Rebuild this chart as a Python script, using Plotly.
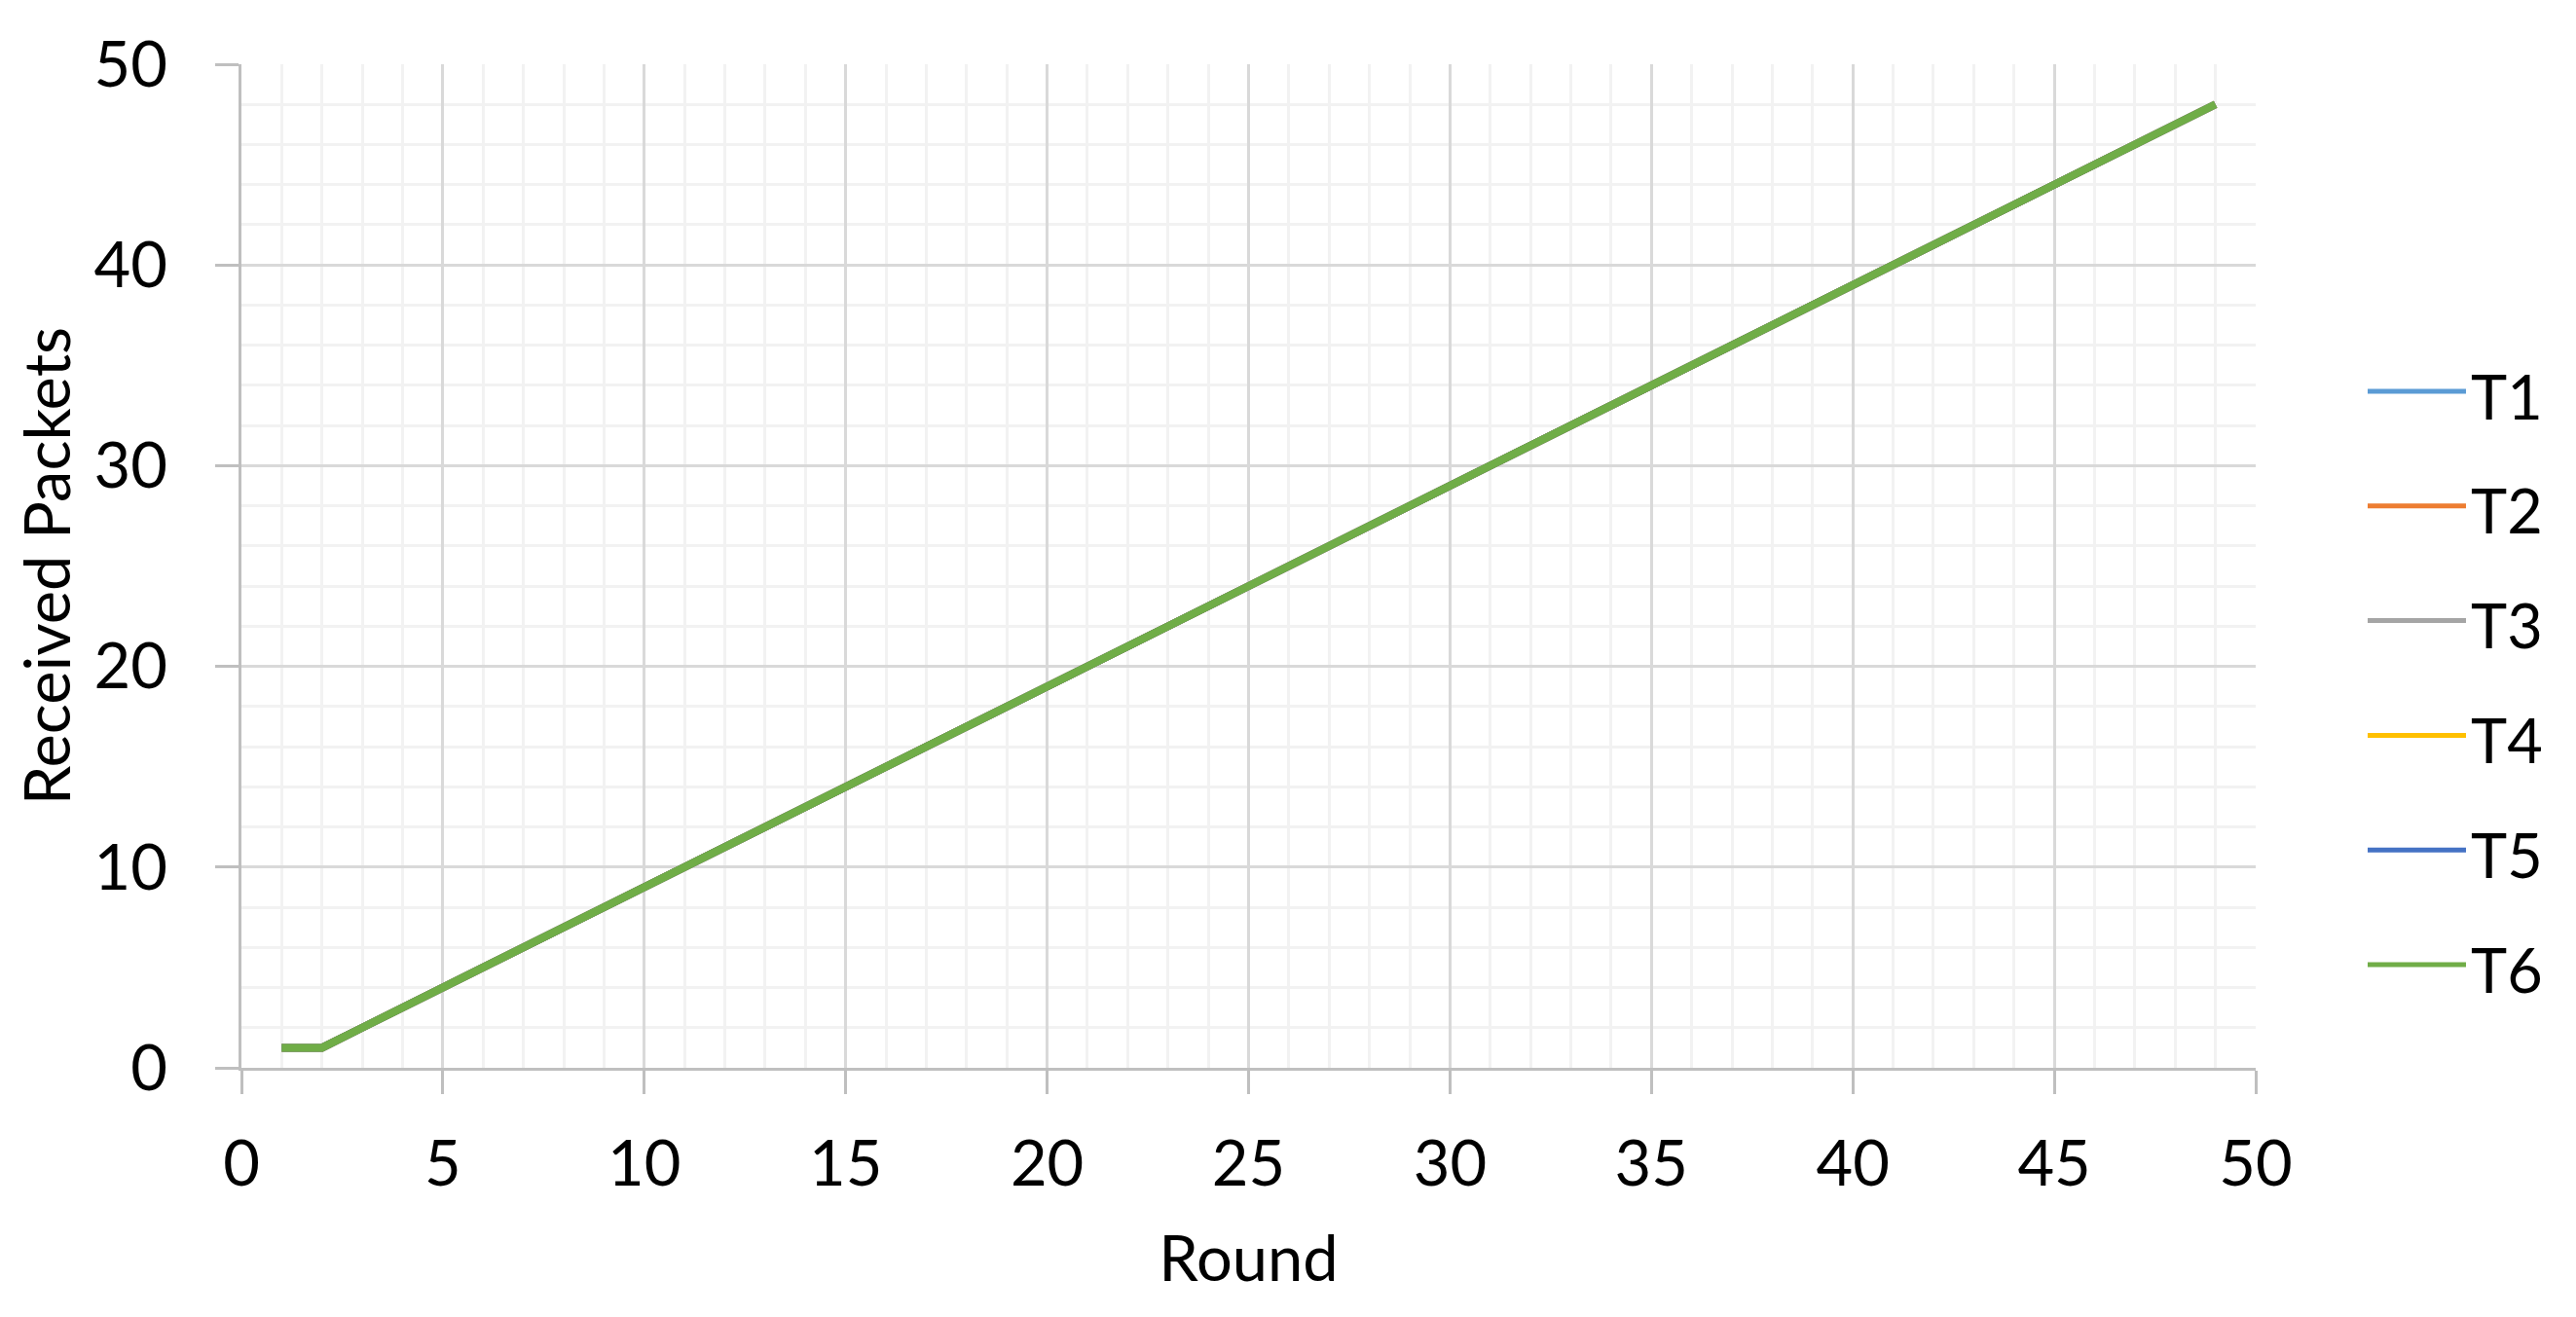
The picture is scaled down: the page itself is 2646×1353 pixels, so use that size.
import plotly.graph_objects as go

# Dados do gráfico
rounds = [1, 2, 3, 4, 5, 6, 7, 8, 9, 10, 11, 12, 13, 14, 15, 16, 17, 18, 19, 20,
          21, 22, 23, 24, 25, 26, 27, 28, 29, 30, 31, 32, 33, 34, 35, 36, 37, 38, 39, 40,
          41, 42, 43, 44, 45, 46, 47, 48, 49]
received = [1, 1, 2, 3, 4, 5, 6, 7, 8, 9, 10, 11, 12, 13, 14, 15, 16, 17, 18, 19,
            20, 21, 22, 23, 24, 25, 26, 27, 28, 29, 30, 31, 32, 33, 34, 35, 36, 37, 38, 39,
            40, 41, 42, 43, 44, 45, 46, 47, 48]
series_names = ["T1", "T2", "T3", "T4", "T5", "T6"]
series_values = [received, received, received, received, received, received]
series_colors = ["#5B9BD5", "#ED7D31", "#A5A5A5", "#FFC000", "#4472C4", "#70AD47"]
x_ticks = [0, 5, 10, 15, 20, 25, 30, 35, 40, 45, 50]
y_ticks = [0, 10, 20, 30, 40, 50]

FONT = "Lato, Calibri, 'Open Sans', sans-serif"
OFF = 8  # margem padrão do body na página html
W, H = 2646 - OFF, 1353 - OFF
L, R, T, B = 248 - OFF, 2317 - OFF, 66 - OFF, 1097 - OFF

fig = go.Figure()

for nome, valores, cor in zip(series_names, series_values, series_colors):
    fig.add_trace(go.Scatter(
        x=rounds,
        y=valores,
        name=nome,
        mode="lines",
        line=dict(color=cor, width=8),
        showlegend=False,
    ))

# Legenda manual (linhas longas como no Excel)
leg_y0 = 402 - OFF
leg_step = 117.8
for i, (nome, cor) in enumerate(zip(series_names, series_colors)):
    yp = 1 - (leg_y0 + i * leg_step - T) / (B - T)
    x0 = (2432 - OFF - L) / (R - L)
    x1 = (2533 - OFF - L) / (R - L)
    fig.add_shape(type="line", xref="paper", yref="paper",
                  x0=x0, x1=x1, y0=yp, y1=yp,
                  line=dict(color=cor, width=5))
    fig.add_annotation(xref="paper", yref="paper", x=x1, y=yp,
                       text=nome, showarrow=False, xanchor="left", yanchor="middle",
                       xshift=3, yshift=-4, font=dict(family=FONT, size=63, color="black"))

eixo = dict(
    range=[0, 50],
    showline=True, linecolor="#BFBFBF", linewidth=3,
    ticks="outside", ticklen=24, tickwidth=3, tickcolor="#BFBFBF",
    showgrid=True, gridcolor="#D9D9D9", gridwidth=3,
    zeroline=False,
    tickfont=dict(family=FONT, size=65, color="black"),
    title_font=dict(family=FONT, size=65, color="black"),
    fixedrange=True,
)

fig.update_xaxes(
    **eixo,
    tickvals=x_ticks,
    minor=dict(dtick=1, showgrid=True, gridcolor="#F2F2F2", gridwidth=3, ticks=""),
    ticklabelstandoff=16,
    title_text="Round",
    title_standoff=40,
)
fig.update_yaxes(
    **eixo,
    tickvals=y_ticks,
    minor=dict(dtick=2, showgrid=True, gridcolor="#F2F2F2", gridwidth=3, ticks=""),
    ticklabelstandoff=36,
    title_text="Received Packets",
    title_standoff=18,
)

fig.update_layout(
    width=W, height=H,
    margin=dict(l=L, r=W - R, t=T, b=H - B),
    plot_bgcolor="white",
    paper_bgcolor="white",
    font=dict(family=FONT, color="black"),
)

fig.write_html("out.html")
